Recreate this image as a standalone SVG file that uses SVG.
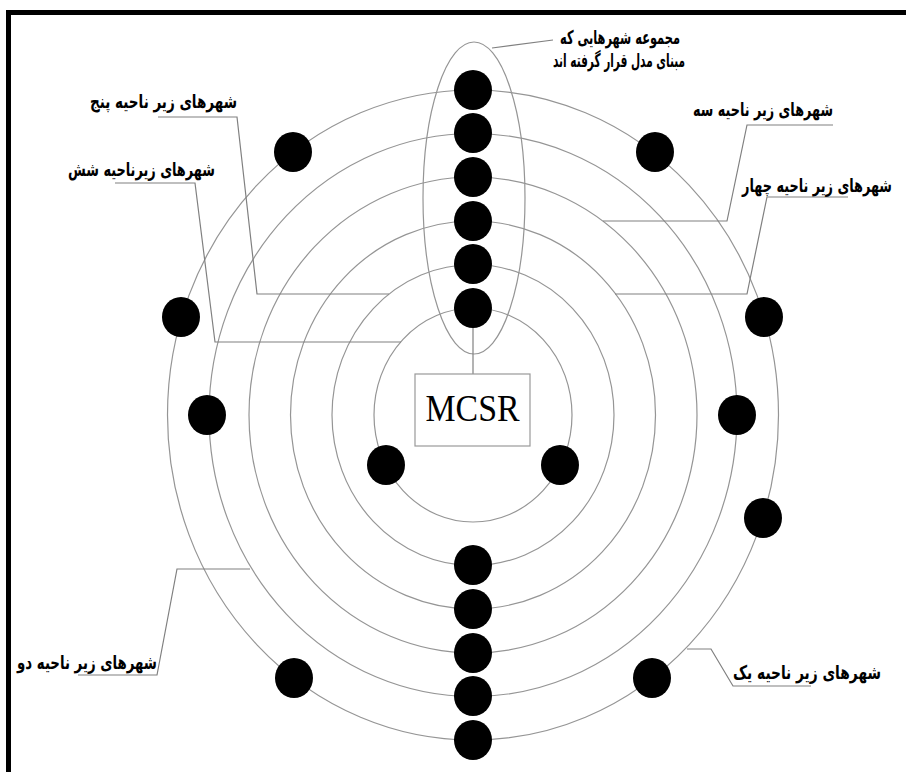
<svg xmlns="http://www.w3.org/2000/svg" width="906" height="772" viewBox="0 0 906 772">
<style>
.ring{fill:none;stroke:#959595;stroke-width:1.2}
.dot{fill:#000}
.conn{fill:none;stroke:#808080;stroke-width:1.2}
.lbl{font-family:"DejaVu Sans",sans-serif;font-weight:bold;font-size:19px;fill:#000;text-anchor:middle}
</style>
<rect width="906" height="772" fill="#fff"/>
<path d="M6,12.5 H906 M8.5,10 V772" stroke="#000" stroke-width="5" fill="none"/>
<g id="rings">
<ellipse class="ring" cx="473" cy="415" rx="99" ry="107"/>
<ellipse class="ring" cx="473" cy="415" rx="141" ry="150.5"/>
<ellipse class="ring" cx="473" cy="415" rx="182.5" ry="194"/>
<ellipse class="ring" cx="473" cy="415" rx="224" ry="238"/>
<ellipse class="ring" cx="473" cy="415" rx="264" ry="281.5"/>
<ellipse class="ring" cx="473" cy="415" rx="305.5" ry="325"/>
</g>
<g id="group-ellipse">
<ellipse class="ring" cx="474" cy="198" rx="51" ry="156"/>
</g>
<g id="connectors">
<line class="conn" x1="473" y1="308" x2="473" y2="374"/>
<polyline class="conn" points="492,48 553,40"/>
<polyline class="conn" points="158,117 237,117 257,294 389,294"/>
<polyline class="conn" points="115,183 195,183 215,342 401,342"/>
<polyline class="conn" points="833,125 747,125 727,221 603,221"/>
<polyline class="conn" points="848,197 767,197 747,294 615,294"/>
<polyline class="conn" points="78,675 157,675 177,569 250,569"/>
<polyline class="conn" points="687,649 711,649 733,686 811,686"/>
</g>
<g id="dots">
<ellipse class="dot" cx="473" cy="90" rx="19" ry="20"/>
<ellipse class="dot" cx="473" cy="133" rx="19" ry="20"/>
<ellipse class="dot" cx="473" cy="177" rx="19" ry="20"/>
<ellipse class="dot" cx="473" cy="221" rx="19" ry="20"/>
<ellipse class="dot" cx="473" cy="264" rx="19" ry="20"/>
<ellipse class="dot" cx="473" cy="308" rx="19" ry="20"/>
<ellipse class="dot" cx="473" cy="565" rx="19" ry="20"/>
<ellipse class="dot" cx="473" cy="609" rx="19" ry="20"/>
<ellipse class="dot" cx="473" cy="653" rx="19" ry="20"/>
<ellipse class="dot" cx="473" cy="696" rx="19" ry="20"/>
<ellipse class="dot" cx="473" cy="740" rx="19" ry="20"/>
<ellipse class="dot" cx="293" cy="152" rx="19" ry="20"/>
<ellipse class="dot" cx="655" cy="152" rx="19" ry="20"/>
<ellipse class="dot" cx="181" cy="317" rx="19" ry="20"/>
<ellipse class="dot" cx="764" cy="317" rx="19" ry="20"/>
<ellipse class="dot" cx="207" cy="415" rx="19" ry="20"/>
<ellipse class="dot" cx="737" cy="415" rx="19" ry="20"/>
<ellipse class="dot" cx="763" cy="518" rx="19" ry="20"/>
<ellipse class="dot" cx="386" cy="465" rx="19" ry="20"/>
<ellipse class="dot" cx="560" cy="465" rx="19" ry="20"/>
<ellipse class="dot" cx="294" cy="678" rx="19" ry="20"/>
<ellipse class="dot" cx="652" cy="678" rx="19" ry="20"/>
</g>
<g id="mcsr">
<rect x="415" y="374" width="115" height="72" fill="#fff" stroke="#999" stroke-width="1.2"/>
<text x="472.5" y="421" font-family="Liberation Serif, serif" font-size="38" text-anchor="middle" textLength="94" lengthAdjust="spacingAndGlyphs">MCSR</text>
</g>
<g id="labels">
<text class="lbl" x="620" y="44" textLength="120" lengthAdjust="spacingAndGlyphs">مجموعه شهرهایی که</text>
<text class="lbl" x="619" y="67" textLength="132" lengthAdjust="spacingAndGlyphs">مبنای مدل قرار گرفته اند</text>
<text class="lbl" x="163.5" y="108" textLength="147" lengthAdjust="spacingAndGlyphs">شهرهای زیر ناحیه پنج</text>
<text class="lbl" x="141.5" y="176" textLength="147" lengthAdjust="spacingAndGlyphs">شهرهای زیرناحیه شش</text>
<text class="lbl" x="763" y="116" textLength="140" lengthAdjust="spacingAndGlyphs">شهرهای زیر ناحیه سه</text>
<text class="lbl" x="817" y="192" textLength="150" lengthAdjust="spacingAndGlyphs">شهرهای زیر ناحیه چهار</text>
<text class="lbl" x="87" y="669" textLength="140" lengthAdjust="spacingAndGlyphs">شهرهای زیر ناحیه دو</text>
<text class="lbl" x="807" y="679" textLength="148" lengthAdjust="spacingAndGlyphs">شهرهای زیر ناحیه یک</text>
</g>
</svg>
